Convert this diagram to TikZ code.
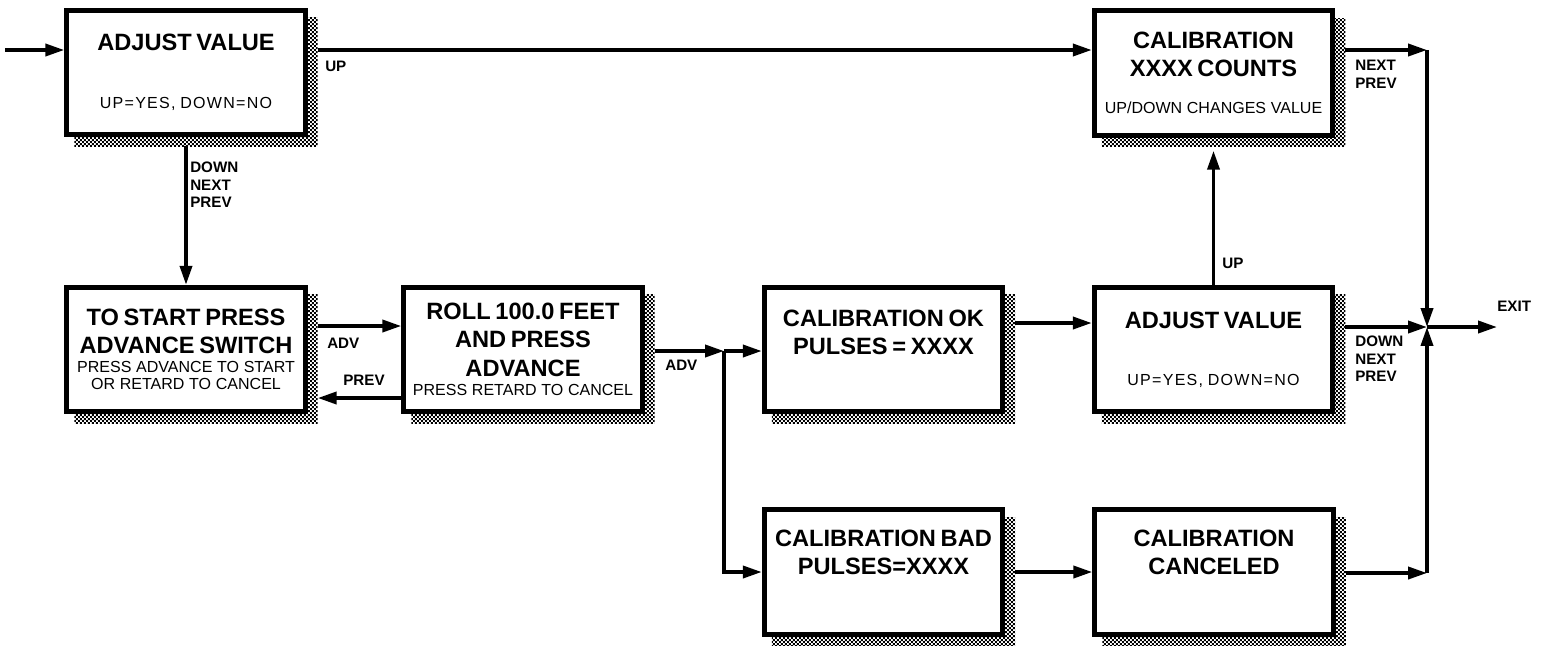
\documentclass[tikz,border=0pt]{standalone}
\usepackage{fontspec}
\setmainfont{Liberation Sans}
\usetikzlibrary{positioning,calc,arrows.meta,backgrounds,patterns.meta}
\setlength{\parindent}{0pt}
\newcommand{\ttl}{\fontsize{16.8}{20}\selectfont\bfseries}
\newcommand{\sml}{\fontsize{11.4}{12.6}\selectfont\mdseries}
\newcommand{\lblf}{\fontsize{10.8}{12.4}\selectfont\bfseries}
\tikzdeclarepattern{
  name=shadowgrid,
  type=uncolored,
  bounding box={(0pt,0pt) and (2.8pt,2.8pt)},
  tile size={(2.8pt,2.8pt)},
  code={
    \fill (0pt,0pt) rectangle (1.4pt,1.4pt);
    \fill (1.4pt,1.4pt) rectangle (2.8pt,2.8pt);
  }
}
\tikzset{
  menubox/.style={draw, line width=3.6pt, fill=white, minimum width=59.6mm, minimum height=31.1mm, text width=59mm, align=center, inner sep=0pt},
  arr/.style={-{Triangle[length=13.5pt,width=8.6pt]}, line width=2.5pt},
  keylbl/.style={font=\lblf, align=left, inner sep=0pt, anchor=north west},
  boxshadow/.style={pattern=shadowgrid, pattern color=black}
}
\begin{document}
\begin{tikzpicture}[x=0.25mm, y=-0.25mm]
  \useasboundingbox (0,0) rectangle (1543,646);

  % screens
  \node[menubox] (adjA) at (186,72.5) {\ttl ADJUST VALUE\par\vspace{28.9pt}\sml\addfontfeature{LetterSpace=8} UP=YES, DOWN=NO};
  \node[menubox] (start) at (186,349.5) {\ttl TO START PRESS\\ADVANCE SWITCH\par\vspace{1pt}\sml PRESS ADVANCE TO START\\OR RETARD TO CANCEL};
  \node[menubox] (roll) at (523,349.5) {\ttl ROLL 100.0 FEET\\AND PRESS\\ADVANCE\par\vspace{1.8pt}\sml PRESS RETARD TO CANCEL};
  \node[menubox] (calok) at (883.5,349.5) {\ttl CALIBRATION OK\\PULSES = XXXX\\[12.5pt]\mbox{}};
  \node[menubox] (adjB) at (1213.5,349.5) {\ttl ADJUST VALUE\par\vspace{28.5pt}\sml\addfontfeature{LetterSpace=8} UP=YES, DOWN=NO};
  \node[menubox] (calcnt) at (1213.5,73) {\ttl CALIBRATION\\XXXX COUNTS\par\vspace{14.6pt}\sml UP/DOWN CHANGES VALUE};
  \node[menubox] (calbad) at (883.5,572) {\ttl CALIBRATION BAD\\PULSES=XXXX\\[16pt]\mbox{}};
  \node[menubox] (calcan) at (1214,572) {\ttl CALIBRATION\\CANCELED\\[16pt]\mbox{}};

  % shadows
  \begin{scope}[on background layer]
    \fill[white] (0,0) rectangle (1543,646);
    \foreach \b in {adjA,start,roll,calok,adjB,calcnt,calbad,calcan}
      \fill[boxshadow] ($(\b.south west)+(10,9)$) rectangle ($(\b.north east)+(10,10)$);
  \end{scope}

  % levels and junctions
  \coordinate (in) at (5,50);
  \coordinate (advy) at (0,326);
  \coordinate (prevy) at (0,398);
  \coordinate (oky) at (0,323);
  \coordinate (split) at (724,351);
  \coordinate (topR) at (1427,50);
  \coordinate (join) at (1427,327);
  \coordinate (botR) at (1427,573);
  \coordinate (exit) at (1497,327);

  \draw[arr] (in) -- (in -| adjA.west);
  \draw[arr] ($(adjA.east |- in)+(10,0)$) -- (in -| calcnt.west);
  \draw[arr] ($(adjA.south)+(0,9)$) -- (start.north);
  \draw[arr] ($(start.east |- advy)+(10,0)$) -- (roll.west |- advy);
  \draw[arr] (roll.west |- prevy) -- ($(start.east |- prevy)+(10,0)$);
  \draw[arr] ($(roll.east |- split)+(10,0)$) -- (split);
  \draw[arr] (split) -- (split -| calok.west);
  \draw[arr] (split) |- (calbad.west);
  \draw[arr] ($(calok.east |- oky)+(10,0)$) -- (adjB.west |- oky);
  \draw[arr] (adjB.north) -- ($(calcnt.south)+(0,13)$);
  \draw[arr] ($(calcnt.east |- topR)+(10,0)$) -- (topR);
  \draw[arr] (topR) -- (join);
  \draw[arr] ($(adjB.east |- join)+(10,0)$) -- (join);
  \draw[arr] ($(calbad.east)+(10,0)$) -- (calcan.west);
  \draw[arr] ($(calcan.east |- botR)+(10,0)$) -- (botR);
  \draw[arr] (botR) -- (join);
  \draw[arr] (join) -- (exit);

  % key labels
  \node[keylbl] (upA) at (325,61) {UP};
  \node[keylbl] (downA) at (190,162) {DOWN\\NEXT\\PREV};
  \node[keylbl] (advA) at (327,338) {ADV};
  \node[keylbl] (prevA) at (343,375) {PREV};
  \node[keylbl] (advB) at (665,360) {ADV};
  \node[keylbl] (upB) at (1222,258) {UP};
  \node[keylbl] (nextB) at (1355,60) {NEXT\\PREV};
  \node[keylbl] (downB) at (1355,336) {DOWN\\NEXT\\PREV};
  \node[keylbl] (exitlbl) at (1497,301) {EXIT};
\end{tikzpicture}
\end{document}
